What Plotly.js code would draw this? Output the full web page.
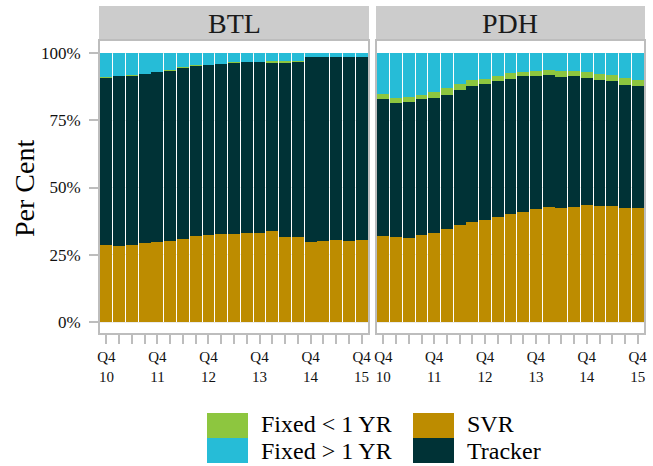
<!DOCTYPE html>
<html>
<head>
<meta charset="utf-8">
<script src="https://cdn.plot.ly/plotly-3.0.1.min.js"></script>
<style>html,body{margin:0;padding:0;background:#fff;}#chart{width:653px;height:466px;}</style>
</head>
<body>
<div id="chart"></div>
<script>
// Quarters Q4 2010 .. Q4 2015 (21 quarters)
const quarters = [0,1,2,3,4,5,6,7,8,9,10,11,12,13,14,15,16,17,18,19,20];
const tickText = ["Q4<br>10","","","","Q4<br>11","","","","Q4<br>12","","","","Q4<br>13","","","","Q4<br>14","","","","Q4<br>15"];
const panels = ["BTL", "PDH"];

// BTL shares
const btlSVR     = [0.286,0.283,0.286,0.294,0.297,0.301,0.309,0.320,0.323,0.327,0.327,0.331,0.331,0.338,0.316,0.316,0.297,0.301,0.305,0.301,0.305];
const btlTracker = [0.622,0.633,0.630,0.629,0.632,0.633,0.635,0.633,0.634,0.633,0.637,0.637,0.637,0.626,0.648,0.652,0.689,0.685,0.681,0.685,0.681];
const btlFixLt1  = [0.003,0.000,0.003,0.000,0.000,0.004,0.004,0.004,0.000,0.000,0.004,0.000,0.000,0.007,0.007,0.003,0.000,0.000,0.000,0.000,0.000];
const btlFixGt1  = [0.089,0.084,0.081,0.077,0.071,0.062,0.052,0.043,0.043,0.040,0.032,0.032,0.032,0.029,0.029,0.029,0.014,0.014,0.014,0.014,0.014];

// PDH shares
const pdhSVR     = [0.320,0.316,0.312,0.323,0.331,0.346,0.361,0.372,0.379,0.390,0.401,0.409,0.420,0.428,0.424,0.428,0.435,0.431,0.431,0.424,0.424];
const pdhTracker = [0.509,0.498,0.506,0.506,0.502,0.498,0.501,0.505,0.506,0.506,0.502,0.505,0.494,0.490,0.487,0.486,0.472,0.469,0.465,0.457,0.453];
const pdhFixLt1  = [0.019,0.019,0.018,0.015,0.022,0.026,0.023,0.023,0.018,0.018,0.023,0.015,0.019,0.019,0.022,0.019,0.022,0.022,0.022,0.026,0.023];
const pdhFixGt1  = [0.152,0.167,0.164,0.156,0.145,0.130,0.115,0.100,0.097,0.086,0.074,0.071,0.067,0.063,0.067,0.067,0.071,0.078,0.082,0.093,0.100];

const seriesNames  = ["SVR", "Tracker", "Fixed < 1 YR", "Fixed > 1 YR"];
const seriesColors = ["#bd8c00", "#003236", "#8dc63f", "#26bcd7"];

const W = 653, H = 466;
const px = v => v / W;
const py = v => 1 - v / H;
const FONT = "Liberation Serif, Times New Roman, serif";

const btl = [btlSVR, btlTracker, btlFixLt1, btlFixGt1];
const pdh = [pdhSVR, pdhTracker, pdhFixLt1, pdhFixGt1];
const traces = [];
[btl, pdh].forEach((set, p) => {
  set.forEach((vals, i) => {
    traces.push({
      type: "bar", x: quarters, y: vals, name: seriesNames[i],
      xaxis: p === 0 ? "x" : "x2", yaxis: p === 0 ? "y" : "y2",
      marker: {color: seriesColors[i], line: {width: 0}},
      showlegend: false, hoverinfo: "skip"
    });
  });
});

const lineCol = "#bdbdbd";
const xCommon = {
  range: [-0.5, 20.5], tickmode: "array", tickvals: quarters, ticktext: tickText,
  ticks: "outside", ticklen: 9, tickwidth: 2, tickcolor: lineCol,
  showline: true, mirror: true, linecolor: lineCol, linewidth: 2,
  showgrid: false, zeroline: false, fixedrange: true,
  tickfont: {family: FONT, size: 15, color: "#111"}
};
const yRange = [-0.0409, 1.0446];
const yDom = [py(333), py(41)];
const legendFont = {family: FONT, size: 24, color: "#000"};
const layout = {
  width: W, height: H,
  margin: {l: 0, r: 0, t: 0, b: 0},
  paper_bgcolor: "#fff", plot_bgcolor: "#fff",
  barmode: "stack", bargap: 0.07,
  showlegend: false,
  font: {family: FONT},
  xaxis: Object.assign({}, xCommon, {domain: [px(100), px(368)], anchor: "y"}),
  xaxis2: Object.assign({}, xCommon, {domain: [px(377), px(644)], anchor: "y2"}),
  yaxis: {
    domain: yDom, range: yRange, anchor: "x",
    tickmode: "array", tickvals: [0, 0.25, 0.5, 0.75, 1], ticktext: ["0%", "25%", "50%", "75%", "100%"],
    ticks: "outside", ticklen: 9, tickwidth: 2, tickcolor: lineCol, ticklabelstandoff: 5,
    showline: true, mirror: true, linecolor: lineCol, linewidth: 2,
    showgrid: true, gridcolor: "#ebebeb", gridwidth: 1, zeroline: false, fixedrange: true,
    tickfont: {family: FONT, size: 17, color: "#111"}
  },
  yaxis2: {
    domain: yDom, range: yRange, anchor: "x2",
    tickvals: [0, 0.25, 0.5, 0.75, 1], showticklabels: false, ticks: "",
    showline: true, mirror: true, linecolor: lineCol, linewidth: 2,
    showgrid: true, gridcolor: "#ebebeb", gridwidth: 1, zeroline: false, fixedrange: true
  },
  shapes: [
    {type: "rect", xref: "paper", yref: "paper", x0: px(99), x1: px(369), y0: py(40), y1: py(6), fillcolor: "#cccccc", line: {width: 0}, layer: "below"},
    {type: "rect", xref: "paper", yref: "paper", x0: px(376), x1: px(645), y0: py(40), y1: py(6), fillcolor: "#cccccc", line: {width: 0}, layer: "below"},
    {type: "rect", xref: "paper", yref: "paper", x0: px(207), x1: px(248), y0: py(438), y1: py(413), fillcolor: seriesColors[2], line: {width: 0}},
    {type: "rect", xref: "paper", yref: "paper", x0: px(207), x1: px(248), y0: py(463), y1: py(438), fillcolor: seriesColors[3], line: {width: 0}},
    {type: "rect", xref: "paper", yref: "paper", x0: px(413), x1: px(454), y0: py(438), y1: py(413), fillcolor: seriesColors[0], line: {width: 0}},
    {type: "rect", xref: "paper", yref: "paper", x0: px(413), x1: px(454), y0: py(463), y1: py(438), fillcolor: seriesColors[1], line: {width: 0}}
  ],
  annotations: [
    {xref: "paper", yref: "paper", x: px(234), y: py(23), text: panels[0], showarrow: false, xanchor: "center", yanchor: "middle", font: {family: FONT, size: 28, color: "#1a1a1a"}},
    {xref: "paper", yref: "paper", x: px(510), y: py(23), text: panels[1], showarrow: false, xanchor: "center", yanchor: "middle", font: {family: FONT, size: 28, color: "#1a1a1a"}},
    {xref: "paper", yref: "paper", x: px(25), y: py(188), text: "Per Cent", textangle: -90, showarrow: false, xanchor: "center", yanchor: "middle", font: {family: FONT, size: 28, color: "#000"}},
    {xref: "paper", yref: "paper", x: px(259), y: py(424), text: "Fixed &lt; 1 YR", showarrow: false, xanchor: "left", yanchor: "middle", font: legendFont},
    {xref: "paper", yref: "paper", x: px(259), y: py(451), text: "Fixed &gt; 1 YR", showarrow: false, xanchor: "left", yanchor: "middle", font: legendFont},
    {xref: "paper", yref: "paper", x: px(465), y: py(424), text: seriesNames[0], showarrow: false, xanchor: "left", yanchor: "middle", font: legendFont},
    {xref: "paper", yref: "paper", x: px(465), y: py(451), text: seriesNames[1], showarrow: false, xanchor: "left", yanchor: "middle", font: legendFont}
  ]
};

Plotly.newPlot("chart", traces, layout, {staticPlot: true, displayModeBar: false});
</script>
</body>
</html>
